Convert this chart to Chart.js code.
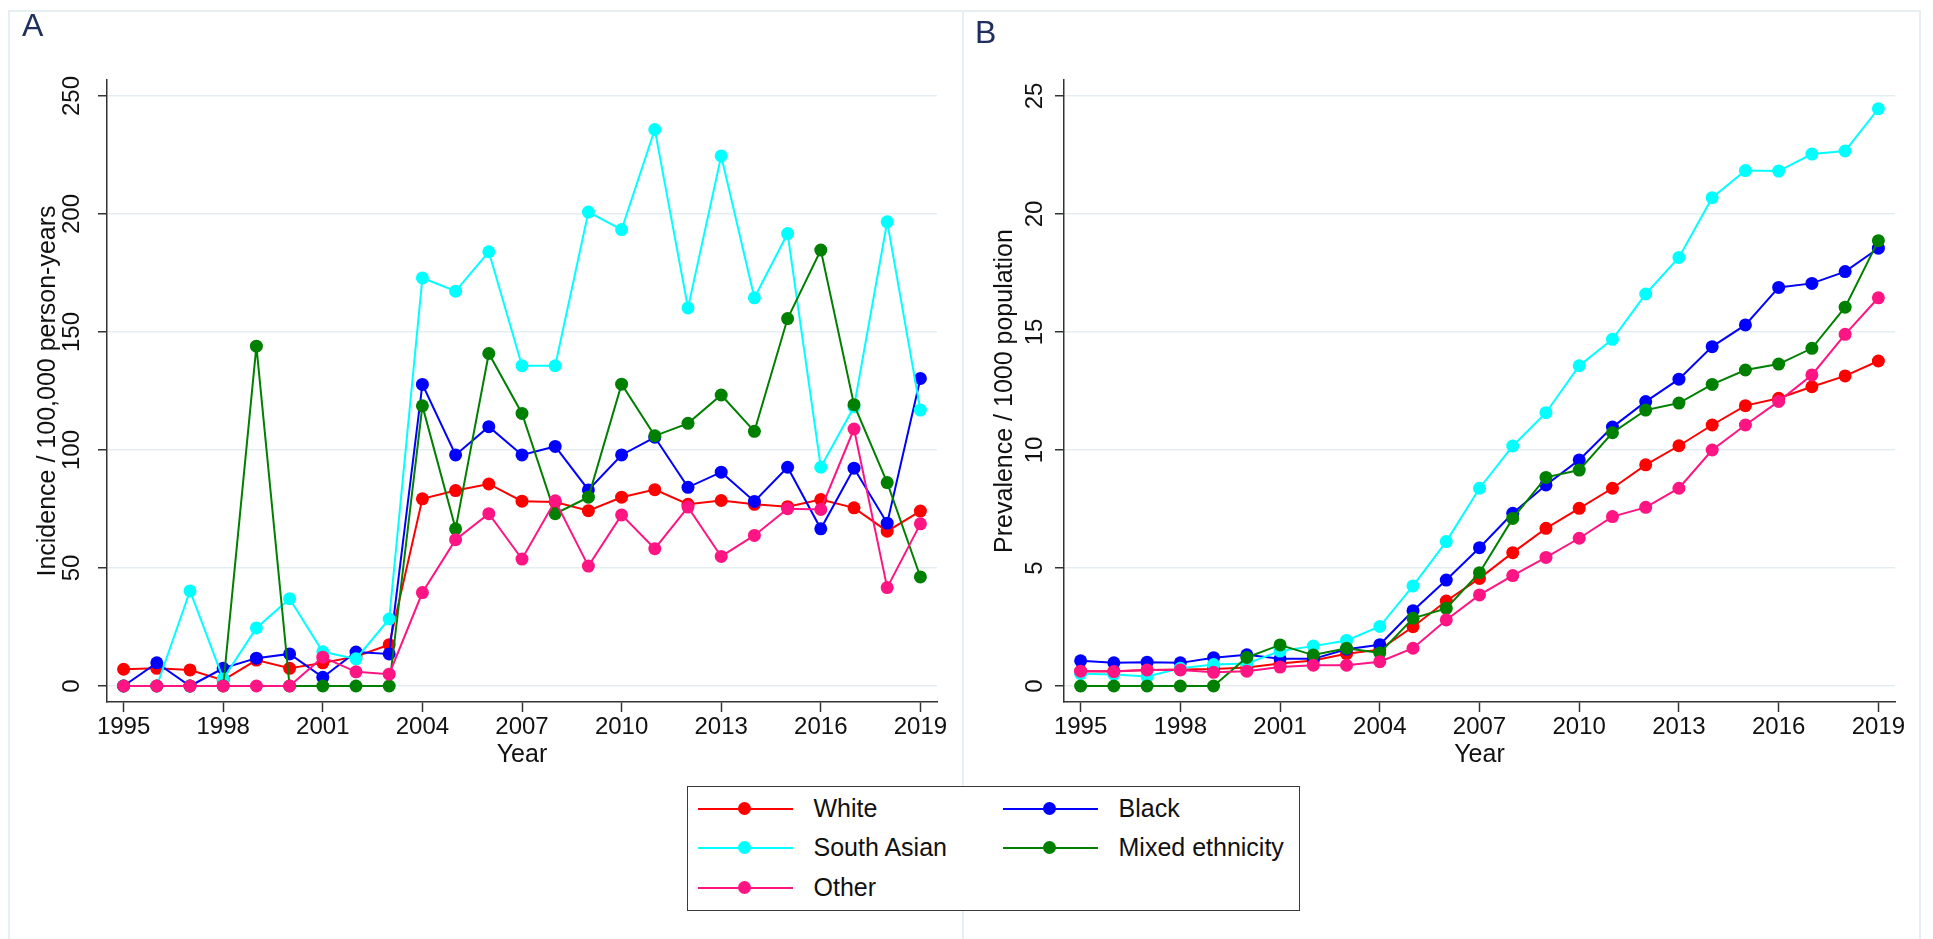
<!DOCTYPE html>
<html>
<head>
<meta charset="utf-8">
<title>Incidence and prevalence by ethnicity, 1995-2019</title>
<script src="https://cdn.jsdelivr.net/npm/chart.js@4.4.1/dist/chart.umd.min.js"></script>
<style>
  html, body { margin: 0; padding: 0; background: #fff; width: 1933px; height: 939px; overflow: hidden;
    font-family: "Liberation Sans", Arial, Helvetica, sans-serif; }
  .frame { position: absolute; left: 8px; top: 10px; width: 1913px; height: 980px; border: 2px solid #e7eff3; box-sizing: border-box; }
  .divider { position: absolute; left: 962px; top: 10px; width: 2px; height: 929px; background: #e7eff3; }
  canvas { position: absolute; top: 0; }
  #panelA { left: 0; }
  #panelB { left: 963px; }
  .tag { position: absolute; color: #1f2f60; font-size: 32px; line-height: 1; }
  #legend { position: absolute; left: 687px; top: 786px; width: 613px; height: 125px;
    border: 1.5px solid #3a3a3a; box-sizing: border-box; background: #fff; }
  .item { position: absolute; height: 30px; display: flex; align-items: center; font-size: 25px; color: #111; white-space: nowrap; }
  .sample { position: relative; width: 95px; height: 13px; margin-right: 21px; flex: none; }
  .sample .ln { position: absolute; left: 0; right: 0; top: 5.5px; height: 2px; }
  .sample .pt { position: absolute; left: 40px; top: 0; width: 13px; height: 13px; border-radius: 50%; }
</style>
</head>
<body>
<div class="frame"></div>
<div class="divider"></div>
<canvas id="panelA" width="963" height="939"></canvas>
<canvas id="panelB" width="970" height="939"></canvas>
<div class="tag" style="left:22px;top:9px;">A</div>
<div class="tag" style="left:975px;top:16px;">B</div>
<div id="legend"></div>

<script>
// Calendar years on the x axis
const years = [1995, 1996, 1997, 1998, 1999, 2000, 2001, 2002, 2003, 2004, 2005, 2006, 2007,
               2008, 2009, 2010, 2011, 2012, 2013, 2014, 2015, 2016, 2017, 2018, 2019];
const yearTicks = [1995, 1998, 2001, 2004, 2007, 2010, 2013, 2016, 2019];

const seriesNames = ["White", "Black", "South Asian", "Mixed ethnicity", "Other"];

// Panel A: incidence per 100,000 person-years
const incidenceWhite = [7.1, 7.5, 6.8, 2.5, 11.0, 7.5, 9.8, 12.5, 17.5, 79.3, 82.8, 85.6, 78.3,
                        78.0, 74.3, 80.0, 83.2, 77.0, 78.6, 77.0, 76.0, 79.0, 75.5, 65.6, 74.1];
const incidenceBlack = [0, 9.8, 0, 7.5, 11.8, 13.6, 3.7, 14.4, 13.6, 127.8, 97.9, 109.9, 97.9,
                        101.5, 83.1, 97.9, 105.4, 84.2, 90.6, 78.2, 92.7, 66.6, 92.3, 69.0, 130.3];
const incidenceSouthAsian = [0, 0, 40.3, 3.0, 24.6, 37.0, 14.5, 11.5, 28.4, 172.9, 167.3, 184.0, 135.7,
                             135.7, 200.8, 193.4, 235.8, 160.2, 224.6, 164.5, 191.7, 92.7, 118.3, 196.7, 116.9];
const incidenceMixed = [0, 0, 0, 0, 144.0, 0, 0, 0, 0, 118.7, 66.6, 140.9, 115.5,
                        73.0, 80.0, 127.9, 106.0, 111.3, 123.3, 107.9, 155.7, 184.7, 119.2, 86.2, 46.2];
const incidenceOther = [0, 0, 0, 0, 0, 0, 12.2, 6.0, 5.0, 39.6, 62.0, 73.0, 53.8,
                        78.5, 50.8, 72.5, 58.2, 75.8, 54.9, 63.8, 75.1, 74.8, 108.9, 41.7, 68.7];
const incidenceTicks = [0, 50, 100, 150, 200, 250];

// Panel B: prevalence per 1000 population
const prevalenceWhite = [0.62, 0.62, 0.68, 0.70, 0.72, 0.78, 0.95, 1.08, 1.37, 1.54, 2.51, 3.60, 4.56,
                         5.65, 6.68, 7.53, 8.38, 9.37, 10.18, 11.06, 11.88, 12.19, 12.68, 13.14, 13.77];
const prevalenceBlack = [1.07, 0.98, 1.01, 0.98, 1.20, 1.32, 1.15, 1.15, 1.56, 1.75, 3.19, 4.49, 5.86,
                         7.32, 8.52, 9.58, 10.97, 12.05, 13.00, 14.38, 15.30, 16.89, 17.06, 17.56, 18.55];
const prevalenceSouthAsian = [0.52, 0.49, 0.40, 0.75, 0.91, 0.95, 1.48, 1.69, 1.93, 2.52, 4.24, 6.12, 8.38,
                              10.17, 11.58, 13.57, 14.69, 16.61, 18.16, 20.69, 21.84, 21.82, 22.54, 22.67, 24.46];
const prevalenceMixed = [0, 0, 0, 0, 0, 1.21, 1.74, 1.31, 1.60, 1.40, 2.87, 3.29, 4.80,
                         7.10, 8.84, 9.15, 10.73, 11.69, 11.99, 12.78, 13.39, 13.64, 14.31, 16.05, 18.87];
const prevalenceOther = [0.63, 0.61, 0.68, 0.68, 0.58, 0.63, 0.80, 0.88, 0.88, 1.03, 1.60, 2.80, 3.86,
                         4.68, 5.45, 6.26, 7.18, 7.57, 8.38, 10.00, 11.06, 12.06, 13.18, 14.90, 16.45];
const prevalenceTicks = [0, 5, 10, 15, 20, 25];

// Styling
const seriesColors = ["#ff0000", "#0000ff", "#00ffff", "#008000", "#ff1483"];
const FONT = '"Liberation Sans", Arial, Helvetica, sans-serif';
const INK = "#111";
const AXIS = "#333";

function datasetsFrom(valueLists) {
  return valueLists.map((vals, i) => ({
    label: seriesNames[i],
    data: years.map((yr, k) => ({ x: yr, y: vals[k] })),
    borderColor: seriesColors[i],
    backgroundColor: seriesColors[i],
    pointBackgroundColor: seriesColors[i],
    pointBorderWidth: 0,
    pointRadius: 6.5,
    borderWidth: 2,
    tension: 0,
    // later series sit on top
    order: valueLists.length - i
  }));
}

function makePanel(canvasId, valueLists, yRange, yTicks, yTitle, geom) {
  return new Chart(document.getElementById(canvasId), {
    type: "line",
    data: { datasets: datasetsFrom(valueLists) },
    options: {
      responsive: false,
      animation: false,
      events: [],
      layout: { padding: { left: 0, top: 80, right: geom.padRight, bottom: 157 } },
      plugins: { legend: { display: false }, tooltip: { enabled: false } },
      scales: {
        x: {
          type: "linear",
          min: 1994.5,
          max: 2019.5,
          afterBuildTicks: s => { s.ticks = yearTicks.map(v => ({ value: v })); },
          afterFit: s => { s.height = 80; },
          grid: { drawOnChartArea: false, drawTicks: true, tickLength: 10, tickColor: AXIS, tickWidth: 1.5 },
          border: { display: true, color: AXIS, width: 1.5 },
          ticks: { autoSkip: false, minRotation: 0, maxRotation: 0, padding: 1,
                   font: { family: FONT, size: 24 }, color: INK, callback: v => String(v) },
          title: { display: true, text: "Year", color: INK, font: { family: FONT, size: 25 },
                   padding: { top: 0, bottom: 12 } }
        },
        y: {
          type: "linear",
          min: yRange[0],
          max: yRange[1],
          afterBuildTicks: s => { s.ticks = yTicks.map(v => ({ value: v })); },
          afterFit: s => { s.width = geom.yWidth; },
          grid: { color: "#e4eef2", lineWidth: 1.5, drawTicks: true, tickLength: 9, tickColor: AXIS, tickWidth: 1.5 },
          border: { display: true, color: AXIS, width: 1.5 },
          ticks: { autoSkip: false, minRotation: 90, maxRotation: 90, crossAlign: "center", padding: 6,
                   font: { family: FONT, size: 24 }, color: INK, callback: v => String(v) },
          title: { display: true, text: yTitle, color: INK, font: { family: FONT, size: 25 },
                   padding: { top: geom.titlePad, bottom: 0 } }
        }
      }
    }
  });
}

makePanel("panelA",
  [incidenceWhite, incidenceBlack, incidenceSouthAsian, incidenceMixed, incidenceOther],
  [-6.78, 256.78], incidenceTicks, "Incidence / 100,000 person-years",
  { yWidth: 107, padRight: 26, titlePad: 33.5 });

makePanel("panelB",
  [prevalenceWhite, prevalenceBlack, prevalenceSouthAsian, prevalenceMixed, prevalenceOther],
  [-0.678, 25.678], prevalenceTicks, "Prevalence / 1000 population",
  { yWidth: 101, padRight: 38, titlePad: 27 });

// Shared legend below both panels: two columns, filled row by row
const legend = document.getElementById("legend");
const colLeft = [9.5, 314.5];
const rowTop = [6.5, 45.5, 85.5];
seriesNames.forEach((name, i) => {
  const item = document.createElement("div");
  item.className = "item";
  item.style.left = colLeft[i % 2] + "px";
  item.style.top = rowTop[Math.floor(i / 2)] + "px";
  const sample = document.createElement("div");
  sample.className = "sample";
  const ln = document.createElement("div");
  ln.className = "ln";
  ln.style.background = seriesColors[i];
  const pt = document.createElement("div");
  pt.className = "pt";
  pt.style.background = seriesColors[i];
  sample.appendChild(ln);
  sample.appendChild(pt);
  const label = document.createElement("span");
  label.textContent = name;
  item.appendChild(sample);
  item.appendChild(label);
  legend.appendChild(item);
});
</script>
</body>
</html>
